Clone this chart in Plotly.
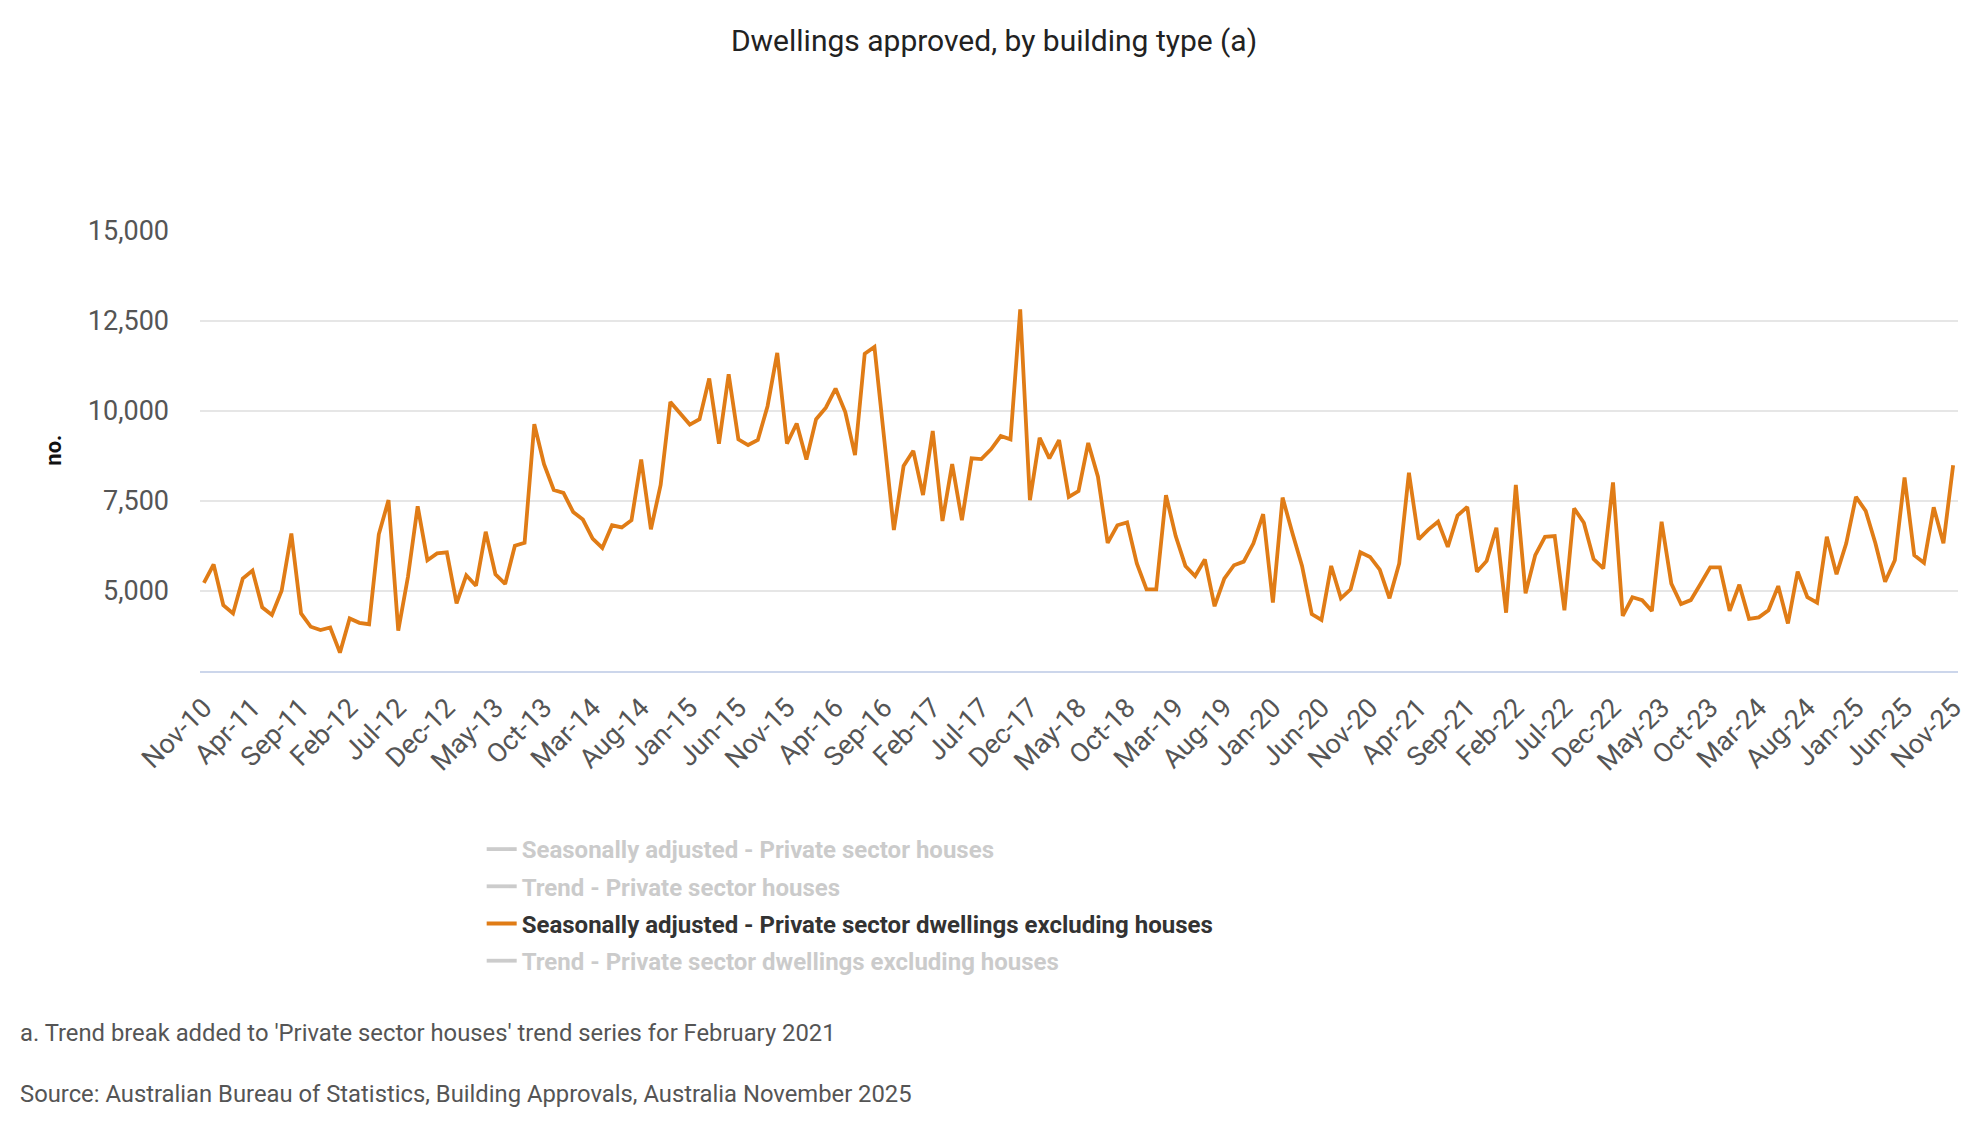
import pandas as pd
import plotly.graph_objects as go

# monthly categories Nov-10 .. Nov-25
months = list(pd.date_range("2010-11-01", periods=181, freq="MS").strftime("%b-%y"))
tick_labels = months[::5]

# Seasonally adjusted - Private sector dwellings excluding houses (no.)
sa_dwellings_ex_houses = [
    5220, 5730, 4600, 4370, 5340, 5560, 4540, 4330, 5000, 6590,
    4370, 4000, 3910, 3980, 3280, 4230, 4110, 4070, 6570, 7520,
    3890, 5390, 7350, 5850, 6040, 6070, 4650, 5430, 5140, 6640,
    5460, 5190, 6250, 6330, 9630, 8520, 7800, 7720, 7190, 6980,
    6450, 6190, 6820, 6760, 6960, 8650, 6710, 7940, 10250, 9930,
    9620, 9770, 10900, 9090, 11020, 9210, 9050, 9190, 10130, 11610,
    9090, 9650, 8650, 9770, 10090, 10620, 9970, 8770, 11590, 11780,
    9250, 6690, 8470, 8890, 7660, 9440, 6940, 8520, 6960, 8680,
    8660, 8930, 9300, 9210, 12820, 7520, 9250, 8680, 9190, 7610,
    7770, 9110, 8170, 6330, 6820, 6900, 5760, 5040, 5040, 7660,
    6520, 5690, 5410, 5870, 4570, 5340, 5710, 5810, 6320, 7130,
    4670, 7590, 6610, 5690, 4350, 4190, 5690, 4790, 5040, 6070,
    5940, 5590, 4790, 5760, 8280, 6430, 6700, 6920, 6220, 7090,
    7330, 5530, 5830, 6750, 4390, 7940, 4930, 5990, 6500, 6520,
    4460, 7290, 6890, 5880, 5620, 8010, 4300, 4820, 4740, 4440,
    6920, 5200, 4630, 4740, 5190, 5650, 5650, 4440, 5170, 4220,
    4260, 4460, 5130, 4090, 5530, 4820, 4670, 6500, 5460, 6320,
    7610, 7220, 6320, 5250, 5850, 8150, 5990, 5780, 7320, 6320,
    8490,
]

# series switched off in the legend of the original (nothing drawn)
sa_private_houses = [None]
trend_private_houses = [None]
trend_dwellings_ex_houses = [None]

series = [
    ("Seasonally adjusted - Private sector houses", sa_private_houses, "legendonly"),
    ("Trend - Private sector houses", trend_private_houses, "legendonly"),
    ("Seasonally adjusted - Private sector dwellings excluding houses", sa_dwellings_ex_houses, True),
    ("Trend - Private sector dwellings excluding houses", trend_dwellings_ex_houses, "legendonly"),
]

FONT = "Roboto"
ORANGE = "#e07c16"

# page body has an 8px margin, so the figure is drawn 8px smaller
W, H = 1972, 1132

fig = go.Figure()
for k, (name, vals, vis) in enumerate(series):
    on = vis is True
    label = f"<b>{name}</b>" if on else f"<b><span style='color:#999999'>{name}</span></b>"
    fig.add_trace(go.Scatter(
        x=months[:len(vals)], y=vals, mode="lines", name=label,
        visible=vis, legendgroup=f"g{k}",
        line=dict(color=ORANGE if on else "#999999", width=3.8),
        hovertemplate="%{x}: %{y:,}<extra></extra>",
    ))

fig.update_layout(
    width=W, height=H,
    paper_bgcolor="white", plot_bgcolor="white",
    margin=dict(l=192, r=20, t=223, b=469),
    font=dict(family=FONT, color="#555555"),
    title=dict(text="Dwellings approved, by building type (a)",
               x=0.5, xanchor="center", y=1 - 32 / H, yanchor="middle",
               font=dict(size=30, color="#222222", family=FONT)),
    showlegend=True,
    legend=dict(x=(482 - 200) / 1760, xanchor="left",
                y=(671 - 827) / 440, yanchor="top",
                font=dict(size=24, color="#333333", family=FONT),
                tracegroupgap=3, itemclick=False, itemdoubleclick=False),
    xaxis=dict(type="category", range=[-0.4, 180.5],
               tickvals=tick_labels, ticktext=tick_labels, tickangle=-45,
               tickfont=dict(size=27, color="#555555"),
               showgrid=False, showline=True, linecolor="#ccd6eb", linewidth=2,
               ticks="", ticklabelstandoff=8, zeroline=False),
    yaxis=dict(range=[2770, 15000], tickvals=[5000, 7500, 10000, 12500, 15000],
               tickformat=",", tickfont=dict(size=27, color="#555555"),
               showgrid=True, gridcolor="#e6e6e6", gridwidth=2,
               showline=False, zeroline=False, ticks="", ticklabelstandoff=30),
)

fig.add_annotation(text="<b>no.</b>", xref="paper", yref="paper",
                   x=(38 - 200) / 1760, y=(671 - 450) / 440, textangle=-90,
                   showarrow=False, font=dict(size=22, color="#111111"))
fig.add_annotation(text="a. Trend break added to 'Private sector houses' trend series for February 2021",
                   xref="paper", yref="paper", x=(18 - 200) / 1760, xanchor="left",
                   y=(671 - 1033) / 440, yanchor="middle", showarrow=False,
                   font=dict(size=23.8, color="#555555"))
fig.add_annotation(text="Source: Australian Bureau of Statistics, Building Approvals, Australia November 2025",
                   xref="paper", yref="paper", x=(18 - 200) / 1760, xanchor="left",
                   y=(671 - 1094) / 440, yanchor="middle", showarrow=False,
                   font=dict(size=23.8, color="#555555"))

fig.write_html("out.html")
